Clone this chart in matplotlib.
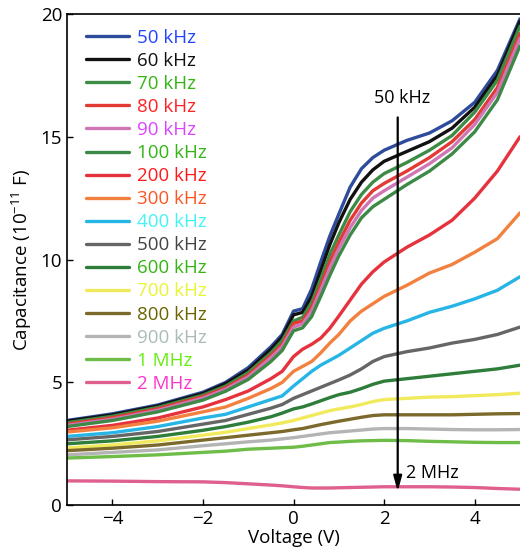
import numpy as np
import matplotlib
matplotlib.use("Agg")
import matplotlib.pyplot as plt

plt.rcParams['font.family'] = ['Open Sans', 'DejaVu Sans']
plt.rcParams['mathtext.fontset'] = 'custom'
plt.rcParams['mathtext.rm'] = 'Open Sans'

# -------------------------------
# Data
# -------------------------------
voltage = [-5, -4, -3, -2, -1.5, -1, -0.5, -0.25, 0, 0.2, 0.4, 0.6, 0.8, 1.0,
           1.25, 1.5, 1.75, 2.0, 2.5, 3.0, 3.5, 4.0, 4.5, 5.0]

labels = ['50 kHz', '60 kHz', '70 kHz', '80 kHz', '90 kHz', '100 kHz', '200 kHz',
          '300 kHz', '400 kHz', '500 kHz', '600 kHz', '700 kHz', '800 kHz',
          '900 kHz', '1 MHz', '2 MHz']

c_50k = [3.45, 3.72, 4.08, 4.6, 5.0, 5.6, 6.45, 6.95, 7.9, 8.0, 8.8, 9.9,
         10.95, 11.85, 12.95, 13.7, 14.15, 14.45, 14.85, 15.15, 15.65, 16.4, 17.7, 19.8]
c_60k = [3.42, 3.68, 4.04, 4.55, 4.95, 5.5, 6.35, 6.85, 7.75, 7.85, 8.5, 9.55,
         10.6, 11.5, 12.45, 13.15, 13.65, 14.0, 14.4, 14.8, 15.35, 16.2, 17.5, 19.7]
c_70k = [3.36, 3.62, 3.98, 4.48, 4.85, 5.4, 6.2, 6.7, 7.5, 7.65, 8.25, 9.2,
         10.2, 11.0, 11.95, 12.65, 13.15, 13.5, 13.95, 14.45, 15.05, 16.0, 17.3, 19.5]
c_80k = [3.3, 3.56, 3.92, 4.42, 4.78, 5.3, 6.1, 6.55, 7.4, 7.5, 8.05, 8.95,
         9.9, 10.7, 11.6, 12.3, 12.8, 13.1, 13.6, 14.15, 14.8, 15.7, 17.0, 19.2]
c_90k = [3.25, 3.5, 3.86, 4.36, 4.72, 5.22, 6.0, 6.45, 7.25, 7.38, 7.9, 8.75,
         9.65, 10.45, 11.3, 12.0, 12.5, 12.8, 13.35, 13.9, 14.55, 15.5, 16.8, 19.0]
c_100k = [3.2, 3.45, 3.8, 4.28, 4.64, 5.12, 5.85, 6.3, 7.1, 7.22, 7.68, 8.5,
          9.35, 10.15, 11.0, 11.7, 12.15, 12.45, 13.05, 13.6, 14.3, 15.2, 16.5, 18.7]
c_200k = [3.05, 3.25, 3.55, 4.0, 4.3, 4.65, 5.15, 5.45, 6.05, 6.35, 6.55, 6.8,
          7.2, 7.7, 8.35, 9.0, 9.5, 9.9, 10.5, 11.0, 11.6, 12.5, 13.6, 15.0]
c_300k = [2.98, 3.15, 3.42, 3.8, 4.0, 4.35, 4.75, 5.0, 5.45, 5.65, 5.85, 6.2,
          6.6, 6.95, 7.5, 7.9, 8.2, 8.5, 8.95, 9.45, 9.8, 10.3, 10.85, 11.9]
c_400k = [2.8, 2.95, 3.2, 3.55, 3.7, 4.0, 4.3, 4.45, 4.85, 5.15, 5.45, 5.7,
          5.9, 6.1, 6.4, 6.7, 7.0, 7.2, 7.5, 7.85, 8.1, 8.4, 8.75, 9.3]
c_500k = [2.66, 2.8, 3.0, 3.3, 3.45, 3.7, 3.95, 4.1, 4.35, 4.5, 4.65, 4.8,
          4.95, 5.1, 5.3, 5.55, 5.85, 6.05, 6.25, 6.4, 6.6, 6.75, 6.95, 7.25]
c_600k = [2.5, 2.62, 2.8, 3.05, 3.2, 3.38, 3.6, 3.75, 3.92, 4.0, 4.12, 4.25,
          4.38, 4.5, 4.6, 4.75, 4.92, 5.05, 5.15, 5.25, 5.35, 5.45, 5.55, 5.7]
c_700k = [2.33, 2.45, 2.62, 2.85, 2.97, 3.12, 3.27, 3.35, 3.45, 3.55, 3.65, 3.75,
          3.85, 3.92, 4.0, 4.1, 4.22, 4.3, 4.35, 4.4, 4.42, 4.46, 4.5, 4.56]
c_800k = [2.22, 2.32, 2.45, 2.65, 2.75, 2.85, 2.95, 3.0, 3.07, 3.12, 3.2, 3.28,
          3.35, 3.42, 3.5, 3.58, 3.65, 3.68, 3.68, 3.68, 3.68, 3.7, 3.72, 3.73]
c_900k = [2.05, 2.15, 2.25, 2.42, 2.5, 2.58, 2.65, 2.7, 2.75, 2.8, 2.85, 2.9,
          2.95, 2.98, 3.02, 3.06, 3.1, 3.12, 3.12, 3.1, 3.08, 3.07, 3.07, 3.08]
c_1M = [1.92, 1.98, 2.05, 2.15, 2.2, 2.28, 2.32, 2.34, 2.36, 2.4, 2.45, 2.5,
        2.55, 2.57, 2.6, 2.62, 2.63, 2.64, 2.63, 2.6, 2.58, 2.56, 2.55, 2.55]
c_2M = [0.99, 0.98, 0.96, 0.95, 0.92, 0.87, 0.82, 0.79, 0.75, 0.72, 0.7, 0.7,
        0.7, 0.71, 0.72, 0.73, 0.74, 0.75, 0.75, 0.75, 0.74, 0.72, 0.68, 0.65]

series = [c_50k, c_60k, c_70k, c_80k, c_90k, c_100k, c_200k, c_300k, c_400k,
          c_500k, c_600k, c_700k, c_800k, c_900k, c_1M, c_2M]

line_colors = ['#2f4c9c', '#111111', '#3d8c45', '#e23a35', '#cf76b4', '#3d8a48',
               '#e6323d', '#f2813f', '#27b5e6', '#666666', '#2e7d3a', '#f0ea5c',
               '#7c6a2c', '#b4b4b4', '#6dbd48', '#df5f8e']
text_colors = ['#2244ff', '#111111', '#33b514', '#ff2222', '#dd44ff', '#33b514',
               '#ff1a1a', '#ff5522', '#44f4f4', '#444444', '#33b514', '#e8f533',
               '#6b6400', '#aabdb4', '#66ee11', '#ff33cc']

# -------------------------------
# Plot
# -------------------------------
fig = plt.figure(figsize=(5.2, 5.57), dpi=100)
ax = fig.add_axes([0.129, 0.093, 0.871, 0.882])

handles = []
for vals, col, lab in zip(series, line_colors, labels):
    h, = ax.plot(voltage, vals, color=col, lw=2.4, label=lab,
                 solid_capstyle='round', solid_joinstyle='round')
    handles.append(h)

ax.set_xlim(-5, 5)
ax.set_ylim(0, 20)
ax.set_xticks([-4, -2, 0, 2, 4])
ax.set_xticklabels(['\u22124', '\u22122', '0', '2', '4'])
ax.set_yticks([0, 5, 10, 15, 20])
ax.tick_params(direction='in', length=4, width=1, labelsize=13.5)
ax.spines['right'].set_visible(False)
for s in ['left', 'bottom', 'top']:
    ax.spines[s].set_linewidth(1.2)

ax.set_xlabel('Voltage (V)', fontsize=13.5, labelpad=1)
ax.set_ylabel(r'Capacitance (10$^{-11}$ F)', fontsize=13.5, labelpad=5)

# arrow from 50 kHz down to 2 MHz
ax.annotate('', xy=(2.3, 0.45), xytext=(2.3, 15.9),
            arrowprops=dict(arrowstyle='-|>,head_length=0.9,head_width=0.25',
                            color='black', lw=1.6))
ax.text(2.4, 16.2, '50 kHz', fontsize=13, ha='center', va='bottom')
ax.text(2.48, 1.3, '2 MHz', fontsize=13, ha='left', va='center')

leg = ax.legend(handles=handles, loc='upper left', frameon=False, fontsize=13.5,
                handlelength=2.3, handletextpad=0.45, labelspacing=0.27,
                borderaxespad=0.0, bbox_to_anchor=(0.025, 0.985))
for txt, col in zip(leg.get_texts(), text_colors):
    txt.set_color(col)

fig.savefig('out.png', dpi=100)
